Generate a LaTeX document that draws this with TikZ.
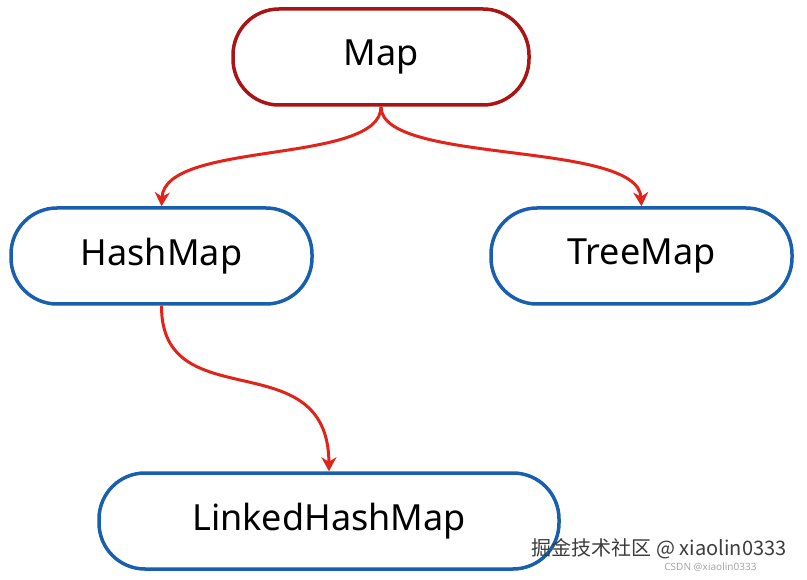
\documentclass[tikz,border=0pt]{standalone}
\usepackage{fontspec}
\setmainfont{Noto Sans}
\newfontfamily\cjk{Noto Sans CJK SC}
\usetikzlibrary{arrows.meta}
\begin{document}
\begin{tikzpicture}[x=1pt,y=-1pt,
  box/.style={draw,line width=3.5pt,rounded corners=46pt,minimum height=96pt,font=\fontsize{36}{42}\selectfont,inner sep=0pt},
  redbox/.style={box,draw={rgb,255:red,170;green,20;blue,20}},
  bluebox/.style={box,draw={rgb,255:red,25;green,95;blue,175}},
  link/.style={draw={rgb,255:red,225;green,35;blue,25},line width=3pt,-{Stealth[length=14pt,width=15pt]}}]
\useasboundingbox (0,0) rectangle (807,580);
\node[redbox,minimum width=296pt] (m) at (381,57) {Map};
\node[bluebox,minimum width=301pt] (h) at (161.5,256) {HashMap};
\node[bluebox,minimum width=301pt] (t) at (641.5,256) {TreeMap};
\node[bluebox,minimum width=460pt] (l) at (329,521) {LinkedHashMap};
\draw[link] (m.south) .. controls (381,165) and (165,140) .. (h.north);
\draw[link] (m.south) .. controls (381,165) and (638,140) .. (t.north);
\draw[link] (h.south) .. controls (161,420) and (328,340) .. (l.north);
\node[anchor=east,font=\cjk\fontsize{20}{24}\selectfont,text={rgb,255:red,60;green,60;blue,60}] (w1) at (790,549) {掘金技术社区 @ xiaolin0333};
\node[anchor=east,font=\fontsize{10}{12}\selectfont,text=black!35] (w2) at (760,567) {CSDN @xiaolin0333};
\end{tikzpicture}
\end{document}
